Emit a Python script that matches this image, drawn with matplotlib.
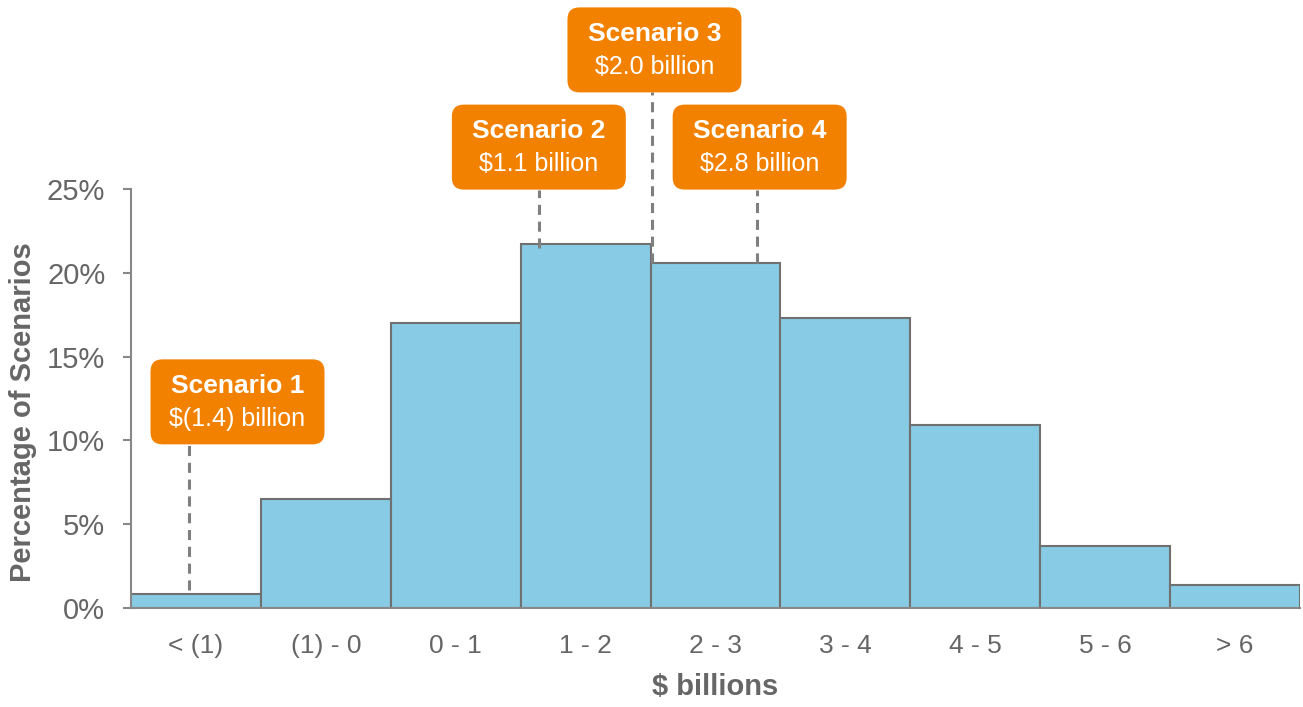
import matplotlib
matplotlib.use("Agg")
import matplotlib.pyplot as plt
from matplotlib.patches import FancyBboxPatch
from matplotlib.transforms import IdentityTransform

# ---- data ----
categories = ["< (1)", "(1) - 0", "0 - 1", "1 - 2", "2 - 3", "3 - 4", "4 - 5", "5 - 6", "> 6"]
percentages = [0.85, 6.5, 17.0, 21.7, 20.6, 17.3, 10.9, 3.7, 1.4]
yticks = [0, 5, 10, 15, 20, 25]
ytick_labels = ["0%", "5%", "10%", "15%", "20%", "25%"]

scenario_titles = ["Scenario 1", "Scenario 2", "Scenario 3", "Scenario 4"]
scenario_values = ["$(1.4) billion", "$1.1 billion", "$2.0 billion", "$2.8 billion"]
# position of the dashed marker on the category axis (category index units)
scenario_x = [-0.05, 2.64, 3.51, 4.32]
# bottom of the dashed line (% units)
scenario_line_bottom = [1.07, 21.5, 20.6, 20.6]
# box centre (category index units, % units)
scenario_box_x = [0.32, 2.64, 3.53, 4.34]
scenario_box_y = [12.3, 27.5, 33.3, 27.5]

BAR_COLOR = "#87CBE5"
EDGE_COLOR = "#707070"
ORANGE = "#F38100"
TEXT_GRAY = "#666666"
DASH_GRAY = "#7F7F7F"
FONT = ["Liberation Sans", "DejaVu Sans"]

fig = plt.figure(figsize=(13.03, 7.07), dpi=100)
ax = fig.add_axes([131 / 1303, 99 / 707, (1300 - 131) / 1303, (608 - 189) / 707])

x = list(range(len(categories)))
ax.bar(x, percentages, width=1.0, color=BAR_COLOR, edgecolor=EDGE_COLOR, linewidth=1.5, zorder=2)

ax.set_xlim(-0.5, len(categories) - 0.5)
ax.set_ylim(0, 25)
ax.set_yticks(yticks)
ax.set_yticklabels(ytick_labels, fontsize=21, color=TEXT_GRAY, family=FONT)
ax.set_xticks(x)
ax.set_xticklabels(categories, fontsize=19, color=TEXT_GRAY, family=FONT)
ax.tick_params(axis="y", length=5.5, width=1.5, color="#888888", pad=13)
ax.tick_params(axis="x", length=0, pad=19)

for s in ["top", "right"]:
    ax.spines[s].set_visible(False)
for s in ["left", "bottom"]:
    ax.spines[s].set_color("#888888")
    ax.spines[s].set_linewidth(1.5)
ax.spines["bottom"].set_zorder(3)

ax.set_ylabel("Percentage of Scenarios", fontsize=21, fontweight="bold", color=TEXT_GRAY,
              family=FONT, va="center")
ax.yaxis.set_label_coords(-0.0924, 0.468)
ax.set_xlabel("$ billions", fontsize=21, fontweight="bold", color=TEXT_GRAY,
              family=FONT, va="center")
ax.xaxis.set_label_coords(0.4996, -0.1885)

fig.canvas.draw()

BOX_W, BOX_H = 174, 85
to_disp = ax.transData.transform
to_data = ax.transData.inverted().transform
for i in range(len(scenario_titles)):
    bx, by = to_disp((scenario_box_x[i], scenario_box_y[i]))
    box_bottom_data = to_data((bx, by - BOX_H / 2))[1]
    ax.plot([scenario_x[i], scenario_x[i]], [scenario_line_bottom[i], box_bottom_data],
            color=DASH_GRAY, linewidth=2.2, dashes=(3.3, 2.2), clip_on=False, zorder=4)
    patch = FancyBboxPatch((bx - BOX_W / 2, by - BOX_H / 2), BOX_W, BOX_H,
                           boxstyle="round,pad=0,rounding_size=12",
                           facecolor=ORANGE, edgecolor="none",
                           transform=IdentityTransform(), zorder=5, clip_on=False)
    fig.add_artist(patch)
    fig.text(bx / fig.bbox.width, (by + 16) / fig.bbox.height, scenario_titles[i],
             ha="center", va="center", fontsize=19, fontweight="bold", color="white",
             family=FONT, zorder=6)
    fig.text(bx / fig.bbox.width, (by - 17) / fig.bbox.height, scenario_values[i],
             ha="center", va="center", fontsize=18, color="white",
             family=FONT, zorder=6)

fig.savefig("out.png", dpi=100)
